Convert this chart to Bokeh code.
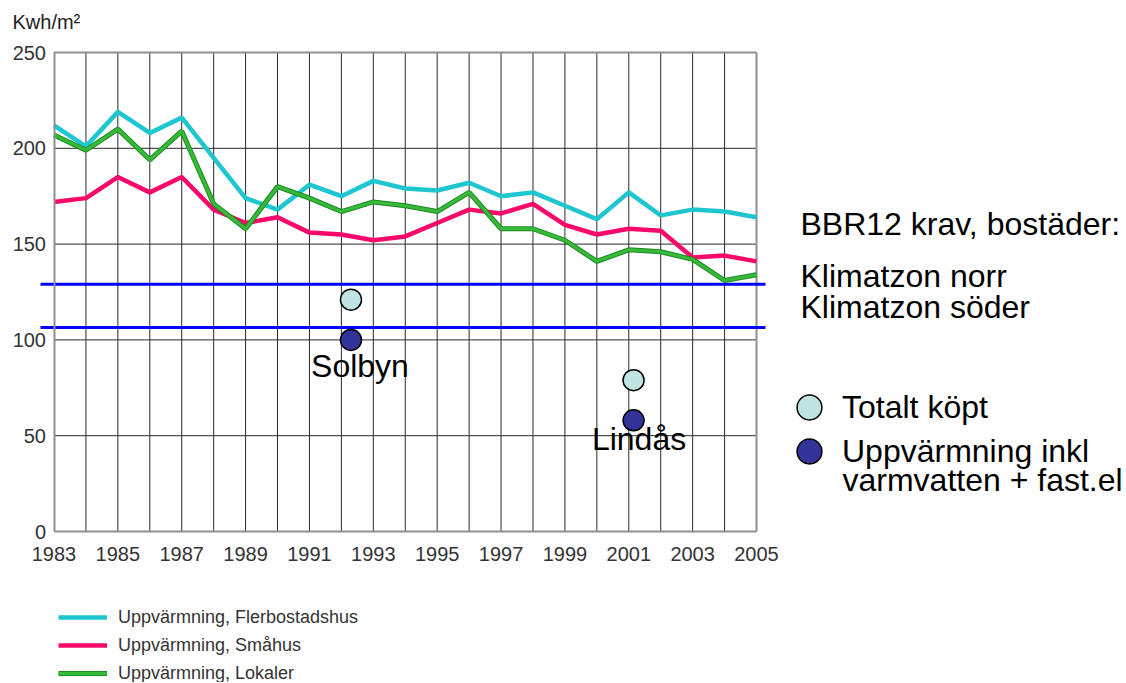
from bokeh.plotting import figure
from bokeh.models import Range1d, FixedTicker, Label, Legend, LegendItem
from bokeh.embed import file_html
from bokeh.resources import INLINE

# ---------------- data ----------------
years = list(range(1983, 2006))
flerbostadshus = [212, 201, 219, 208, 216, 195, 174, 168, 181, 175, 183, 179,
                  178, 182, 175, 177, 170, 163, 177, 165, 168, 167, 164]
smahus = [172, 174, 185, 177, 185, 168, 161, 164, 156, 155, 152, 154,
          161, 168, 166, 171, 160, 155, 158, 157, 143, 144, 141]
lokaler = [207, 199, 210, 194, 209, 171, 158, 180, 174, 167, 172, 170,
           167, 177, 158, 158, 152, 141, 147, 146, 142, 131, 134]
series_names = ["Uppvärmning, Flerbostadshus", "Uppvärmning, Småhus", "Uppvärmning, Lokaler"]

bbr_levels = [129, 106.5]          # Klimatzon norr, Klimatzon söder
sites = ["Solbyn", "Lindås"]
site_year = [1992.3, 2001.15]
totalt_kopt = [121, 79]
uppvarmning_inkl = [100, 58]

x_tick_labels = [1983, 1985, 1987, 1989, 1991, 1993, 1995, 1997, 1999, 2001, 2003, 2005]
y_ticks = [0, 50, 100, 150, 200, 250]

# ---------------- layout (pixel anchors on the page) ----------------
W, H = 1124, 682
PAGE = 0
X_A, X_B = 53.5, 756.0     # px of first / last year
Y_A, Y_B = 531.0, 52.0     # px of y=0 / y=250
sx = (X_B - X_A) / (years[-1] - years[0])
sy = (Y_A - Y_B) / (y_ticks[-1] - y_ticks[0])


def dx(px):
    return years[0] + (px - X_A) / sx


def dy(py):
    return y_ticks[0] + (Y_A - py) / sy


FONT = "Liberation Sans"
CYAN, PINK = "#1ec6d0", "#f7086a"
GREEN_DARK, GREEN = "#1f8a24", "#35bb38"
LIGHT, DARK = "#c0e3e4", "#333399"
AXIS_GRAY = "#8f8f8f"
GRID = "#2a2a2a"
BIG = "32px"

p = figure(width=W, height=H, output_backend="svg", toolbar_location=None,
           title=None, x_range=Range1d(dx(PAGE), dx(PAGE + W)),
           y_range=Range1d(dy(PAGE + H), dy(PAGE)), min_border=0,
           min_border_left=0, min_border_right=0, min_border_top=0, min_border_bottom=0)
p.outline_line_color = None
p.background_fill_color = "white"
p.border_fill_color = "white"
p.xgrid.visible = False
p.ygrid.visible = False

# axes fixed at the data origin
xa = p.xaxis[0]
xa.fixed_location = y_ticks[0]
xa.bounds = (years[0], years[-1])
xa.ticker = FixedTicker(ticks=x_tick_labels)
xa.major_tick_out = 0
xa.major_tick_in = 0
xa.minor_tick_line_color = None
xa.axis_line_color = AXIS_GRAY
xa.axis_line_width = 2
xa.major_label_standoff = 15
xa.major_label_text_font = FONT
xa.major_label_text_font_size = "20px"
xa.major_label_text_color = "#333333"

ya = p.yaxis[0]
ya.fixed_location = years[0]
ya.bounds = (y_ticks[0], y_ticks[-1])
ya.ticker = FixedTicker(ticks=y_ticks)
ya.major_tick_out = 0
ya.major_tick_in = 0
ya.minor_tick_line_color = None
ya.axis_line_color = AXIS_GRAY
ya.axis_line_width = 2
ya.major_label_standoff = 8
ya.major_label_text_font = FONT
ya.major_label_text_font_size = "20px"
ya.major_label_text_color = "#333333"

# grid lines (every year, every 50)
inner_years = years[1:-1]
p.segment(x0=inner_years, y0=[y_ticks[0]] * len(inner_years),
          x1=inner_years, y1=[y_ticks[-1]] * len(inner_years),
          line_color=GRID, line_width=1, level="underlay")
inner_y = y_ticks[1:-1]
p.segment(x0=[years[0]] * len(inner_y), y0=inner_y,
          x1=[years[-1]] * len(inner_y), y1=inner_y,
          line_color=GRID, line_width=1, level="underlay")
# top and right frame edges
p.segment(x0=[years[0], years[-1]], y0=[y_ticks[-1], y_ticks[0]],
          x1=[years[-1], years[-1]], y1=[y_ticks[-1], y_ticks[-1]],
          line_color=AXIS_GRAY, line_width=2, level="underlay")

# BBR requirement lines (slightly overhanging the plot area)
p.segment(x0=[dx(40)] * len(bbr_levels), y0=bbr_levels,
          x1=[dx(765)] * len(bbr_levels), y1=bbr_levels,
          line_color="#0000ff", line_width=3)

# series
r1 = p.line(years, flerbostadshus, line_color=CYAN, line_width=4.5)
r2 = p.line(years, smahus, line_color=PINK, line_width=4.5)
r3a = p.line(years, lokaler, line_color=GREEN_DARK, line_width=5)
r3b = p.line(years, lokaler, line_color=GREEN, line_width=3)

# site points
rt = p.scatter(site_year, totalt_kopt, size=21, fill_color=LIGHT,
               line_color="black", line_width=1.5)
ru = p.scatter(site_year, uppvarmning_inkl, size=21, fill_color=DARK,
               line_color="black", line_width=1.5)

# site names
name_offsets = [(9, 26), (5.5, 19)]   # px right, px down from the dark point
for name, xv, yv, (ox, oy) in zip(sites, site_year, uppvarmning_inkl, name_offsets):
    p.add_layout(Label(x=xv + ox / sx, y=yv - oy / sy, text=name, text_align="center",
                       text_baseline="alphabetic", text_font=FONT,
                       text_font_size=BIG, text_color="black"))

# unit
p.add_layout(Label(x=dx(12), y=dy(21), text="Kwh/m²", text_font=FONT,
                   text_font_size="20px", text_color="#222222",
                   text_baseline="alphabetic"))

# right-hand texts
for txt, px, py in [("BBR12 krav, bostäder:", 800, 223),
                    ("Klimatzon norr", 800, 275),
                    ("Klimatzon söder", 800, 306),
                    ("varmvatten + fast.el", 842, 479)]:
    p.add_layout(Label(x=dx(px), y=dy(py), text=txt, text_font=FONT,
                       text_font_size=BIG, text_color="black",
                       text_baseline="alphabetic"))

# bottom legend for the lines
GH = 22
SP = 6
top = 606
leg1 = Legend(items=[LegendItem(label=series_names[0], renderers=[r1]),
                     LegendItem(label=series_names[1], renderers=[r2]),
                     LegendItem(label=series_names[2], renderers=[r3a, r3b])],
              location=(58 - PAGE, PAGE + H - (top + 3 * GH + 2 * SP)),
              glyph_width=49, glyph_height=GH, label_height=GH, spacing=SP,
              label_standoff=11, padding=0, margin=0,
              border_line_color=None, background_fill_alpha=0,
              label_text_font=FONT, label_text_font_size="18px",
              label_text_color="#333333")
p.add_layout(leg1)

# right legend for the points
G2 = 62
for rend, lab, cy in [(rt, "Totalt köpt", 407), (ru, "Uppvärmning inkl", 451)]:
    lg = Legend(items=[LegendItem(label=lab, renderers=[rend])],
                location=(809 - G2 / 2 - PAGE, PAGE + H - (cy + G2 / 2)),
                glyph_width=G2, glyph_height=G2, label_height=G2, spacing=0,
                label_standoff=2, padding=0, margin=0,
                border_line_color=None, background_fill_alpha=0,
                label_text_font=FONT, label_text_font_size=BIG,
                label_text_color="black")
    p.add_layout(lg)

open("out.html", "w").write(file_html(p, INLINE))
